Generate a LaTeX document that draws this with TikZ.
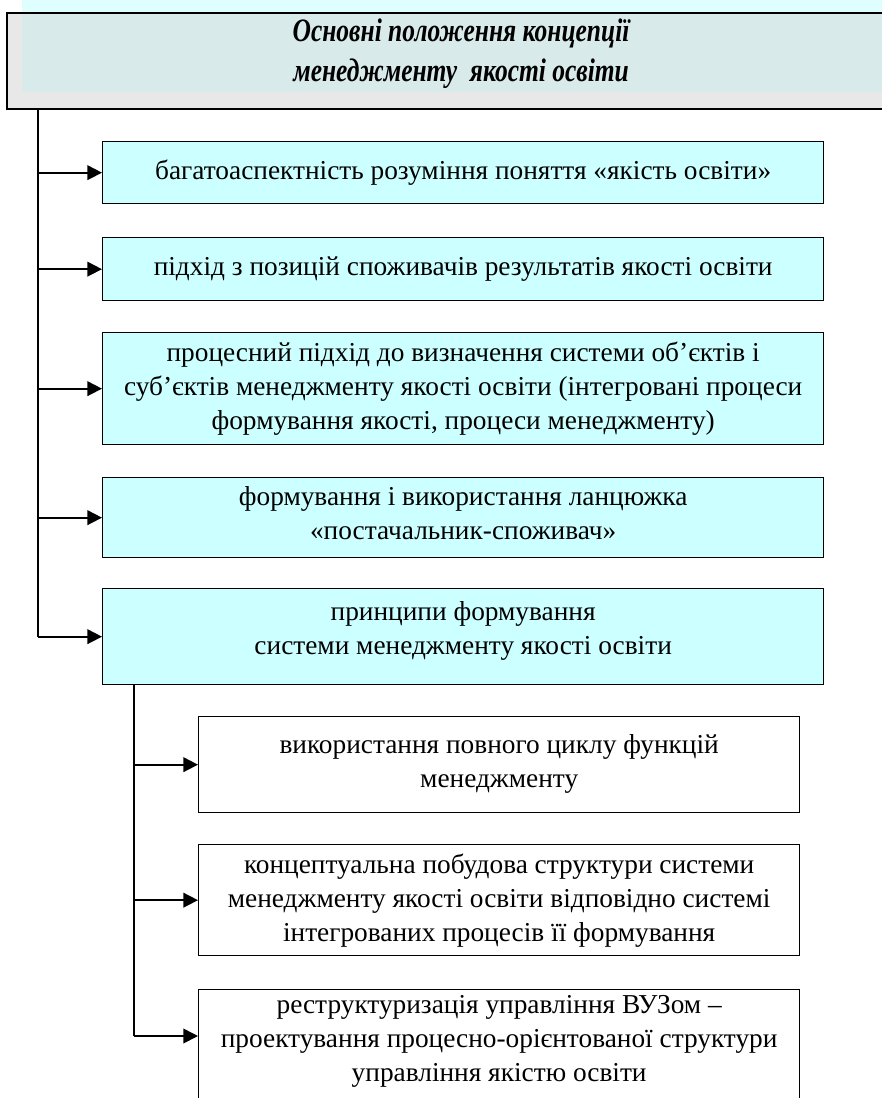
\documentclass[tikz,border=0pt]{standalone}
\usepackage{fontspec}
\setmainfont{Liberation Serif}
\newfontfamily\titlefont[FakeStretch=0.78]{Liberation Serif}
\usetikzlibrary{arrows.meta}
\definecolor{boxcyan}{HTML}{CCFFFF}
\definecolor{topcyan}{HTML}{DFFFFF}
\definecolor{topgray}{HTML}{E8E8E8}
\definecolor{topmix}{HTML}{D8EAEA}
\tikzset{
    every node/.style={rectangle, inner sep=0pt, anchor=north west, align=center,
        font=\fontsize{20.5}{25.5}\selectfont},
    mainbox/.style={draw, line width=1pt, fill=boxcyan, minimum width=540.75pt},
    subbox/.style={draw, line width=1pt, fill=white, minimum width=450.75pt},
    link/.style={line width=1.3pt},
    arr/.style={link, -{Triangle[length=11pt,width=11pt]}}
}

\begin{document}
\begin{tikzpicture}[x=0.75pt, y=-0.75pt]
        \useasboundingbox (0,0) rectangle (881,1098);
        \fill[topgray] (6,12) rectangle (920,108);
        \fill[topcyan] (22,0) rectangle (920,12);
        \fill[topmix] (22,12) rectangle (920,92);
        \node (title) [draw, line width=1.6pt, minimum width=681pt, minimum height=72pt,
            font=\titlefont\bfseries\itshape\fontsize{24.5}{30}\selectfont] at (6,12)
            {Основні положення концепції\\ менеджменту\ \ якості освіти\\[-13pt]\mbox{}};
        \node (b1) [mainbox, minimum height=46.5pt] at (102,141)
            {багатоаспектність розуміння поняття «якість освіти»};
        \node (b2) [mainbox, minimum height=47.25pt] at (102,237)
            {підхід з позицій споживачів результатів якості освіти};
        \node (b3) [mainbox, minimum height=84pt] at (102,332)
            {процесний підхід до визначення системи об’єктів і\\ суб’єктів менеджменту якості освіти (інтегровані процеси\\ формування якості, процеси менеджменту)};
        \node (b4) [mainbox, minimum height=60pt] at (102,477)
            {формування і використання ланцюжка\\ «постачальник-споживач»\\[-18pt]\mbox{}};
        \node (b5) [mainbox, minimum height=72pt] at (102,588)
            {принципи формування\\ системи менеджменту якості освіти\\[-13pt]\mbox{}};
        \node (s1) [subbox, minimum height=72pt] at (198,716)
            {використання повного циклу функцій\\ менеджменту\\[-20pt]\mbox{}};
        \node (s2) [subbox, minimum height=83.25pt] at (198,844)
            {концептуальна побудова структури системи\\ менеджменту якості освіти відповідно системі\\ інтегрованих процесів її формування};
        \node (s3) [subbox, minimum height=105pt] at (198,989)
            {реструктуризація управління ВУЗом –\\ проектування процесно-орієнтованої структури\\ управління якістю освіти\\[6pt]\mbox{}};
        \coordinate (t0) at (38,108);
        \coordinate (t1) at (134,684);
        \draw[link] (t0) -- (t0 |- b5.west);
        \draw[arr] (t0 |- b1.west) -- (b1.west);
        \draw[arr] (t0 |- b2.west) -- (b2.west);
        \draw[arr] (t0 |- b3.west) -- (b3.west);
        \draw[arr] (t0 |- b4.west) -- (b4.west);
        \draw[arr] (t0 |- b5.west) -- (b5.west);
        \draw[link] (t1) -- (134,1036);
        \draw[arr] (t1 |- s1.west) -- (s1.west);
        \draw[arr] (t1 |- s2.west) -- (s2.west);
        \draw[arr] (134,1036) -- (198,1036);
\end{tikzpicture}
\end{document}
